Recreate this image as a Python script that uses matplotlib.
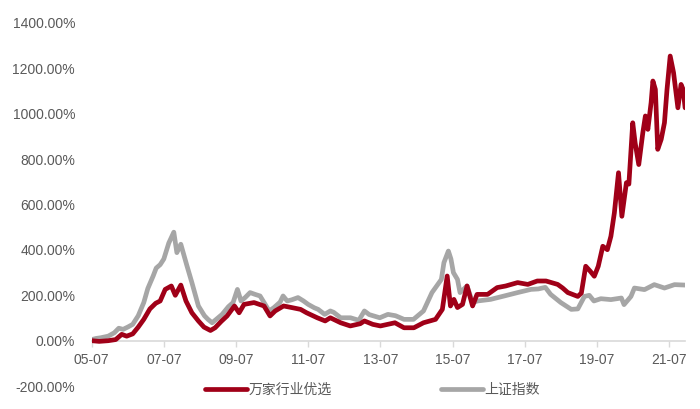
import matplotlib
matplotlib.use('Agg')
import matplotlib.pyplot as plt
import matplotlib.dates as mdates
from matplotlib.ticker import FuncFormatter
import pandas as pd

plt.rcParams['font.family'] = ['Liberation Sans', 'Noto Sans CJK SC']

# 上证指数 - cumulative return (%)
sh_dates = ['2005-07-01', '2005-08-15', '2005-10-01', '2005-12-15', '2006-02-15', '2006-04-01',
            '2006-05-15', '2006-07-01', '2006-08-20', '2006-10-15', '2006-12-10', '2007-01-20',
            '2007-03-15', '2007-04-15', '2007-05-25', '2007-07-01', '2007-08-20', '2007-10-10',
            '2007-11-10', '2007-12-20', '2008-02-20', '2008-04-10', '2008-06-15', '2008-08-15',
            '2008-09-20', '2008-11-01', '2008-12-15', '2009-02-10', '2009-04-15', '2009-06-01',
            '2009-07-15', '2009-08-20', '2009-10-01', '2009-11-20', '2010-01-10', '2010-03-01',
            '2010-04-15', '2010-06-01', '2010-07-20', '2010-09-20', '2010-10-20', '2010-12-01',
            '2011-01-15', '2011-03-20', '2011-05-15', '2011-07-01', '2011-09-01', '2011-10-10',
            '2011-12-15', '2012-02-10', '2012-03-15', '2012-05-25', '2012-09-01', '2012-11-25',
            '2013-01-20', '2013-03-10', '2013-06-25', '2013-09-15', '2013-12-01', '2014-02-25',
            '2014-06-01', '2014-09-10', '2014-12-05', '2015-01-20', '2015-03-10', '2015-04-05',
            '2015-05-20', '2015-06-15', '2015-07-10', '2015-08-20', '2015-09-15', '2015-11-25',
            '2016-01-20', '2016-03-10', '2016-07-20', '2016-12-05', '2017-04-20', '2017-09-01',
            '2017-11-15', '2018-01-25', '2018-03-20', '2018-07-01', '2018-10-15', '2018-12-20',
            '2019-02-25', '2019-04-15', '2019-06-01', '2019-08-10', '2019-11-20', '2020-03-05',
            '2020-04-01', '2020-06-10', '2020-07-15', '2020-10-25', '2021-02-01', '2021-05-15',
            '2021-08-25', '2021-12-10']
sh_values = [5, 10, 13, 20, 35, 55,
             50, 60, 72, 110, 168, 230,
             285, 320, 335, 360, 430, 478,
             388, 425, 330, 256, 153, 110,
             94, 79, 95, 116, 150, 168,
             226, 175, 190, 212, 204, 197,
             165, 131, 146, 170, 197, 175,
             180, 190, 175, 160, 145, 138,
             116, 131, 125, 101, 101, 90,
             131, 115, 101, 116, 110, 94,
             94, 131, 212, 240, 270, 344,
             395, 360, 300, 270, 212, 241,
             168, 175, 182, 197, 212, 226,
             228, 235, 204, 168, 138, 140,
             195, 200, 175, 185, 181, 188,
             159, 195, 232, 225, 247, 232,
             247, 245]

# 万家行业优选 - cumulative return (%)
wj_dates = ['2005-07-01', '2005-09-15', '2005-12-15', '2006-03-01', '2006-05-01', '2006-06-20',
            '2006-08-20', '2006-10-15', '2006-12-10', '2007-02-10', '2007-04-10', '2007-05-25',
            '2007-07-15', '2007-09-15', '2007-10-25', '2007-12-20', '2008-02-10', '2008-04-10',
            '2008-06-15', '2008-08-10', '2008-10-15', '2008-12-01', '2009-02-01', '2009-04-01',
            '2009-06-15', '2009-08-01', '2009-09-20', '2009-12-30', '2010-04-10', '2010-06-10',
            '2010-08-01', '2010-10-25', '2011-01-15', '2011-04-15', '2011-06-15', '2011-10-01',
            '2011-12-20', '2012-02-10', '2012-05-25', '2012-08-30', '2012-12-10', '2013-01-20',
            '2013-04-15', '2013-07-01', '2013-11-25', '2014-02-25', '2014-06-05', '2014-09-10',
            '2015-01-10', '2015-03-20', '2015-05-08', '2015-06-10', '2015-07-15', '2015-08-20',
            '2015-10-10', '2015-11-25', '2016-01-20', '2016-03-05', '2016-06-20', '2016-09-25',
            '2016-12-20', '2017-04-20', '2017-08-01', '2017-11-05', '2018-02-01', '2018-05-30',
            '2018-07-20', '2018-09-10', '2018-12-20', '2019-01-25', '2019-03-10', '2019-04-25',
            '2019-06-05', '2019-07-15', '2019-08-30', '2019-10-15', '2019-11-20', '2019-12-25',
            '2020-02-05', '2020-03-10', '2020-04-25', '2020-05-20', '2020-06-28', '2020-07-22',
            '2020-08-28', '2020-10-08', '2020-11-03', '2020-11-28', '2020-12-31', '2021-01-18',
            '2021-02-12', '2021-03-08', '2021-04-12', '2021-05-15', '2021-06-10', '2021-07-12',
            '2021-08-15', '2021-09-28', '2021-10-30', '2021-11-20', '2021-12-10']
wj_values = [0, -3, 0, 5, 28, 20,
             30, 60, 94, 140, 165, 175,
             226, 241, 200, 245, 175, 123,
             87, 60, 45, 57, 85, 109,
             153, 123, 160, 168, 153, 109,
             131, 153, 146, 138, 123, 101,
             87, 101, 79, 65, 75, 87,
             72, 65, 79, 57, 57, 79,
             94, 138, 285, 153, 182, 146,
             160, 241, 153, 204, 204, 234,
             241, 256, 248, 263, 263, 248,
             232, 212, 195, 210, 328, 306,
             284, 328, 416, 401, 460, 563,
             740, 548, 696, 690, 960, 872,
             776, 916, 990, 931, 1049, 1144,
             1107, 843, 887, 960, 1107, 1254,
             1181, 1026, 1129, 1107, 1026]

y_ticks = list(range(-200, 1401, 200))
x_tick_years = list(range(2005, 2022, 2))

red = '#A00018'
grey = '#A6A6A6'
txt = '#595959'

fig = plt.figure(figsize=(7, 4.09), dpi=100)
ax = fig.add_axes([0.131, 0.056, 0.848, 0.888])

ax.plot(pd.to_datetime(sh_dates), sh_values, color=grey, lw=3.4, label='上证指数',
        solid_joinstyle='round', solid_capstyle='round', zorder=2)
ax.plot(pd.to_datetime(wj_dates), wj_values, color=red, lw=3.4, label='万家行业优选',
        solid_joinstyle='round', solid_capstyle='round', zorder=3)

ax.set_ylim(-200, 1400)
ax.set_yticks(y_ticks)
ax.yaxis.set_major_formatter(FuncFormatter(lambda v, p: '%.2f%%' % v))
ax.set_xlim(pd.Timestamp('2005-07-01'), pd.Timestamp('2021-12-12'))
ax.set_xticks([pd.Timestamp(f'{y}-07-01') for y in x_tick_years])
ax.xaxis.set_major_formatter(mdates.DateFormatter('%y-%m'))

for s in ['top', 'right', 'left']:
    ax.spines[s].set_visible(False)
ax.spines['bottom'].set_position(('data', 0))
ax.spines['bottom'].set_color('#D9D9D9')
ax.spines['bottom'].set_linewidth(1.2)
ax.tick_params(axis='y', length=0, pad=12, labelsize=10, labelcolor=txt)
ax.tick_params(axis='x', length=4, width=1, color='#D9D9D9', pad=5, labelsize=10, labelcolor=txt)

h, l = ax.get_legend_handles_labels()
fig.legend(h[::-1], l[::-1], loc='center left', bbox_to_anchor=(0.275, 0.047), ncol=2,
           frameon=False, handlelength=3.0, handletextpad=0.1, columnspacing=7.9,
           prop={'family': ['Noto Sans CJK SC'], 'size': 10}, labelcolor=txt)

fig.savefig('out.png', dpi=100)
